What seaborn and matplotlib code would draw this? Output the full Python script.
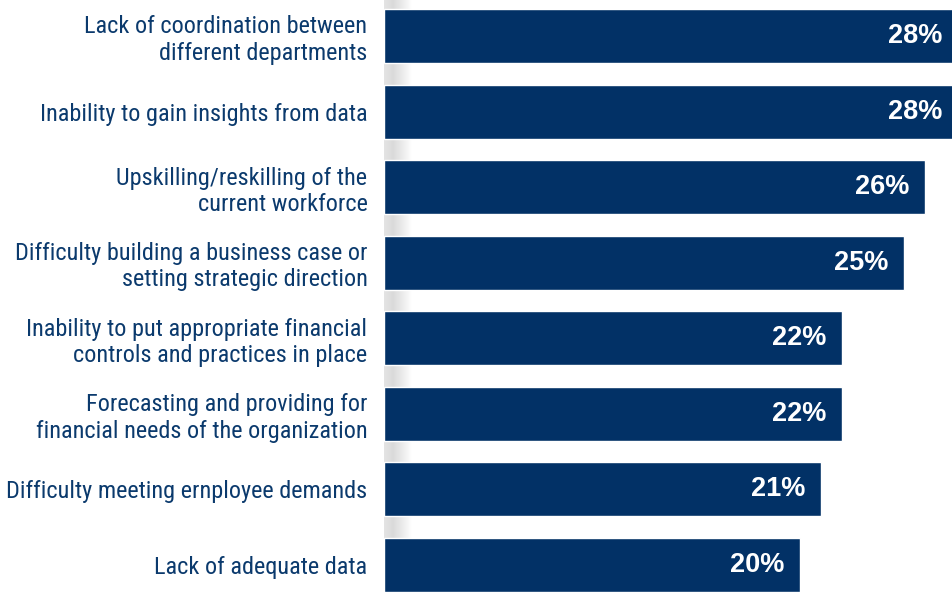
import numpy as np
import pandas as pd
import seaborn as sns
import matplotlib.pyplot as plt
from matplotlib import font_manager

sns.set_theme(style="white")

# condensed face if there is one, otherwise Roboto (narrower than Arial)
names = {f.name for f in font_manager.fontManager.ttflist}
label_font = "Roboto"
for cand in ["Liberation Sans Narrow", "Roboto Condensed", "DejaVu Sans Condensed"]:
    if cand in names:
        label_font = cand
        break
plt.rcParams['font.family'] = [label_font, 'DejaVu Sans']

# Data
categories = [
    "Lack of coordination between\ndifferent departments",
    "Inability to gain insights from data",
    "Upskilling/reskilling of the\ncurrent workforce",
    "Difficulty building a business case or\nsetting strategic direction",
    "Inability to put appropriate financial\ncontrols and practices in place",
    "Forecasting and providing for\nfinancial needs of the organization",
    "Difficulty meeting ernployee demands",
    "Lack of adequate data",
]
values = [28, 28, 26, 25, 22, 22, 21, 20]
value_labels = ["28%", "28%", "26%", "25%", "22%", "22%", "21%", "20%"]

df = pd.DataFrame({"category": categories, "value": values})

navy = "#023166"
text_navy = "#0b3a6d"

fig = plt.figure(figsize=(9.53, 5.92), dpi=100)
ax = fig.add_axes([0.403, 0.0, 0.597, 1.0])

xmax = 27.36
# soft grey shadow next to the category axis
grad = np.linspace(0, 1, 256)[None, :]
ax.imshow(grad, cmap=sns.blend_palette(["#e4e4e4", "#dadada", "#ececec", "#ffffff"], as_cmap=True),
          extent=(0, 1.3, 7.5, -0.6), aspect="auto", zorder=0)

sns.barplot(data=df, x="value", y="category", orient="h", color=navy,
            width=0.714, saturation=1, ax=ax, zorder=2)

ax.set_xlim(0, xmax)
ax.set_ylim(7.357, -0.476)
ax.set_xlabel("")
ax.set_ylabel("")
ax.set_xticks([])
for s in ax.spines.values():
    s.set_visible(False)

ax.tick_params(axis="y", length=0, pad=12)
for t in ax.get_yticklabels():
    t.set_fontsize(18)
    t.set_color(text_navy)
    t.set_horizontalalignment("right")
    t.set_linespacing(1.18)

# fit category labels so the widest line spans ~350 px
fig.canvas.draw()
r = fig.canvas.get_renderer()
widest = max(t.get_window_extent(r).width for t in ax.get_yticklabels())
size = min(18 * 361 / widest, 19)
for t in ax.get_yticklabels():
    t.set_fontsize(size)

for i, (v, lab) in enumerate(zip(values, value_labels)):
    x = min(v, xmax)
    pad = 0.5 if v > xmax else 0.75
    ax.text(x - pad, i, lab, color="white", fontsize=19.5, fontweight="bold",
            family=["Liberation Sans", "DejaVu Sans"],
            ha="right", va="center", zorder=3)

fig.savefig("out.png", dpi=100)
